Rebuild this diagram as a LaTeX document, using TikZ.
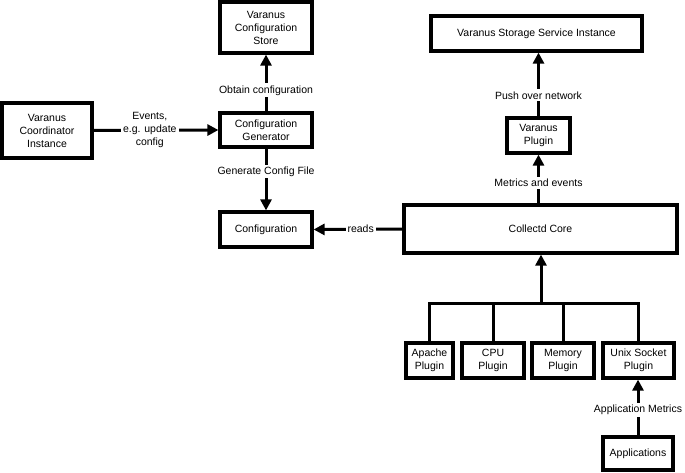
\documentclass[tikz,border=0pt]{standalone}
\usepackage{fontspec}
\setmainfont{Liberation Sans}
\usetikzlibrary{arrows.meta}
\begin{document}
\begin{tikzpicture}[x=1pt,y=-1pt,
  box/.style={draw=black, line width=3.2pt, inner sep=0pt, align=center,
    font=\fontsize{10.5}{13}\selectfont, minimum height=35pt},
  conn/.style={line width=3pt},
  arr/.style={conn, -{Triangle[length=11pt,width=11pt]}},
  lbl/.style={fill=white, inner sep=2pt, align=center, font=\fontsize{10.5}{13}\selectfont}]
\useasboundingbox (0,0) rectangle (685,473);
% nodes
\node[box, minimum width=92pt, minimum height=51pt] (store) at (266,27.5) {Varanus\\Configuration\\Store};
\node[box, minimum width=90pt, minimum height=55pt] (coord) at (47,130.5) {Varanus\\Coordinator\\Instance};
\node[box, minimum width=92pt, minimum height=34pt] (gen) at (266,130) {Configuration\\Generator};
\node[box, minimum width=92pt] (config) at (266,229.5) {Configuration};
\node[box, minimum width=211pt] (storage) at (536.5,33.5) {Varanus Storage Service Instance};
\node[box, minimum width=63pt] (vplugin) at (538.5,135.5) {Varanus\\Plugin};
\node[box, minimum width=273pt, minimum height=48pt] (collectd) at (540.5,229) {Collectd Core};
\node[box, minimum width=47pt] (apache) at (429.5,360.5) {Apache\\Plugin};
\node[box, minimum width=62pt] (cpu) at (493,360.5) {CPU\\Plugin};
\node[box, minimum width=62pt] (memory) at (563,360.5) {Memory\\Plugin};
\node[box, minimum width=71pt] (unix) at (638.5,360.5) {Unix Socket\\Plugin};
\node[box, minimum width=70pt, minimum height=33pt] (apps) at (638,453.5) {Applications};
% connectors
\draw[arr] (coord.east) -- node[lbl, pos=0.45] {Events,\\e.g. update\\config} (gen.west);
\draw[arr] (gen.north) -- node[lbl, pos=0.37] {Obtain configuration} (store.south);
\draw[arr] (gen.south) -- node[lbl, pos=0.37] {Generate Config File} (config.north);
\draw[arr] (vplugin.north) -- node[lbl, pos=0.33] {Push over network} (vplugin.north |- storage.south);
\draw[arr] (vplugin.south |- collectd.north) -- node[lbl, pos=0.42] {Metrics and events} (vplugin.south);
\draw[arr] (collectd.west) -- node[lbl, pos=0.47] {reads} (config.east);
\coordinate (bus) at (541,303);
\draw[conn] (apache.north) |- (bus) -| (unix.north);
\draw[conn] (cpu.north) -- (cpu.north |- bus);
\draw[conn] (memory.north) -- (memory.north |- bus);
\draw[arr] (bus) -- (bus |- collectd.south);
\draw[arr] (apps.north) -- node[lbl, pos=0.46] {Application Metrics} (apps.north |- unix.south);
\end{tikzpicture}
\end{document}
